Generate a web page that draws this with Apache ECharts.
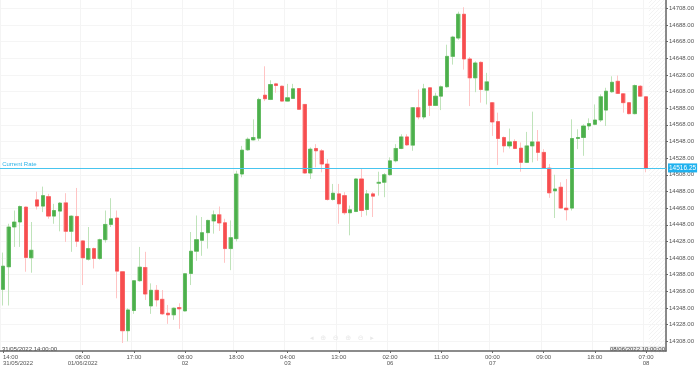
<!DOCTYPE html>
<html><head><meta charset="utf-8">
<script src="https://cdn.jsdelivr.net/npm/echarts@6/dist/echarts.min.js"></script>
<style>html,body{margin:0;padding:0;background:#fff}#c{width:699px;height:367px}</style>
</head><body><div id="c"></div>
<script>
const SLOTS = 117;
const tickLabels = {0:'14:00\n31/05/2022',14:'08:00\n01/06/2022',23:'17:00',32:'08:00\n02',41:'18:00',50:'04:00\n03',59:'13:00',68:'02:00\n06',77:'11:00',86:'00:00\n07',95:'09:00',104:'18:00',113:'07:00\n08'};
const yTicks = [14308,14328,14348,14368,14388,14408,14428,14448,14468,14488,14508,14528,14548,14568,14588,14608,14628,14648,14668,14688,14708];
const currentRate = 14516.25;
const startLabel = '31/05/2022 14:00:00';
const endLabel = '08/06/2022 10:00:00';

const open = [14370.4,14397.5,14445.3,14451.3,14469.2,14408.3,14477.9,14470.4,14481.8,14458.4,
14464.4,14474.3,14440.1,14458.0,14428.6,14406.6,14419.4,14407.5,14430.1,14448.4,
14456.1,14391.6,14320.7,14345.0,14380.8,14396.7,14350.5,14369.3,14358.5,14341.8,
14339.8,14348.6,14344.5,14389.5,14416.2,14429.3,14438.5,14452.5,14460.0,14450.4,
14419.4,14431.3,14508.9,14538.0,14549.9,14551.9,14603.6,14598.5,14617.2,14614.4,
14596.5,14599.7,14611.6,14592.5,14510.1,14539.6,14536.8,14520.9,14478.3,14485.1,
14483.0,14462.4,14463.9,14503.0,14466.3,14485.1,14497.8,14499.0,14508.1,14524.8,
14539.6,14553.5,14543.6,14588.6,14577.4,14612.5,14591.3,14602.4,14613.7,14650.2,
14672.2,14700.8,14647.1,14624.4,14643.0,14609.6,14594.6,14571.9,14552.8,14542.7,
14548.0,14540.0,14522.9,14542.7,14547.5,14534.9,14516.1,14488.7,14493.1,14468.0,
14468.0,14551.6,14552.8,14566.6,14568.6,14573.8,14585.7,14607.7,14620.3,14605.3,
14594.6,14581.4,14614.4,14601.7];
const close = [14398.3,14445.3,14451.3,14469.9,14408.7,14417.4,14470.4,14483.0,14458.4,14465.1,
14474.0,14440.1,14458.4,14428.1,14408.3,14419.4,14407.5,14430.1,14448.4,14455.2,
14392.3,14320.7,14345.7,14380.8,14397.1,14364.8,14369.3,14357.7,14341.0,14339.8,
14347.8,14347.0,14389.2,14416.2,14430.1,14438.5,14453.2,14460.0,14450.1,14419.4,
14432.5,14508.9,14537.6,14550.7,14552.8,14598.5,14599.3,14616.4,14615.2,14596.5,
14600.5,14611.3,14586.6,14510.1,14538.8,14536.8,14520.9,14478.3,14485.9,14473.1,
14462.4,14466.0,14503.0,14465.1,14485.1,14482.3,14499.0,14508.1,14524.8,14539.6,
14553.5,14543.9,14588.6,14577.4,14611.3,14591.3,14602.4,14613.7,14650.2,14673.4,
14700.8,14647.1,14624.4,14642.3,14610.4,14619.6,14571.4,14551.6,14542.7,14547.5,
14539.6,14522.9,14542.7,14547.5,14534.9,14516.1,14486.3,14491.0,14468.0,14466.0,
14551.6,14552.8,14566.6,14569.5,14573.8,14601.7,14608.4,14619.1,14605.7,14594.6,
14581.4,14615.2,14602.4,14516.25];
const high = [14414.6,14449.2,14465.1,14471.1,14469.9,14451.3,14487.8,14493.8,14485.1,14473.1,
14475.2,14485.9,14459.1,14492.2,14429.3,14445.3,14420.6,14431.3,14465.1,14479.9,
14465.1,14392.3,14347.8,14381.5,14421.4,14415.5,14377.6,14375.6,14369.6,14351.7,
14348.6,14353.7,14389.5,14439.3,14459.1,14457.3,14454.0,14465.1,14469.9,14455.2,
14453.2,14512.9,14542.7,14552.8,14574.6,14600.5,14638.3,14621.5,14618.4,14615.0,
14617.2,14617.2,14612.0,14593.0,14540.8,14544.8,14538.8,14526.9,14497.0,14497.0,
14487.1,14471.1,14503.8,14516.1,14489.8,14487.1,14511.7,14510.1,14528.9,14544.8,
14556.7,14556.7,14589.0,14610.4,14617.2,14613.0,14606.5,14615.2,14664.2,14674.9,
14703.9,14709.2,14649.5,14644.2,14644.2,14630.4,14595.0,14582.6,14554.0,14563.5,
14550.7,14546.8,14559.5,14583.8,14561.8,14538.8,14520.9,14508.1,14499.0,14503.0,
14574.6,14562.7,14568.6,14575.8,14592.5,14604.5,14612.5,14626.3,14627.2,14605.7,
14595.3,14616.4,14615.6,14602.4];
const low = [14351.0,14351.0,14421.4,14421.4,14391.6,14390.4,14466.3,14463.2,14455.2,14449.2,
14440.1,14427.4,14415.5,14421.4,14375.6,14405.0,14395.5,14406.0,14426.6,14445.3,
14359.7,14306.0,14308.0,14341.0,14379.6,14357.7,14341.0,14349.8,14339.8,14329.0,
14333.8,14323.0,14344.0,14375.6,14404.7,14410.7,14419.4,14437.3,14440.5,14402.3,
14393.5,14428.1,14505.0,14536.8,14549.5,14548.7,14596.5,14597.7,14606.5,14596.0,
14596.0,14599.3,14586.0,14509.5,14503.0,14516.9,14511.0,14477.1,14477.1,14449.2,
14460.0,14435.3,14463.2,14457.3,14459.1,14457.3,14483.0,14481.1,14506.9,14522.9,
14538.8,14542.7,14536.8,14574.6,14574.6,14578.6,14590.5,14585.7,14612.5,14640.3,
14670.1,14634.3,14590.5,14607.2,14594.6,14592.5,14554.7,14519.7,14534.9,14539.6,
14538.8,14511.7,14522.1,14522.9,14524.8,14514.9,14480.3,14456.1,14467.2,14453.2,
14465.1,14538.8,14530.8,14561.8,14567.5,14571.4,14566.6,14606.5,14605.3,14582.6,
14580.6,14580.6,14601.7,14511.0];

const categories = [];
for (let i = 0; i < SLOTS; i++) categories.push(String(i));
const wickData = open.map((o, i) => [o, close[i], low[i], high[i]]);
const bodyData = open.map((o, i) => [o, close[i], Math.min(o, close[i]), Math.max(o, close[i])]);

const GREEN = '#4cb04c', RED = '#f74d4f', LGREEN = '#bfe3ba', LRED = '#ffc4c4';
const FONT = 'Liberation Sans';
const isTick = (idx) => tickLabels[idx] !== undefined;

const chart = echarts.init(document.getElementById('c'), null, {renderer: 'canvas'});
const gridLeft = -1.15, gridRight = 33, gridTop = 0, gridBottom = 14;

chart.setOption({
  animation: false,
  backgroundColor: '#fff',
  grid: {left: gridLeft, right: gridRight, top: gridTop, bottom: gridBottom},
  xAxis: {
    type: 'category', data: categories, boundaryGap: true,
    axisLine: {show: true, lineStyle: {color: '#666', width: 1.5}},
    axisTick: {show: true, interval: (i) => isTick(i), alignWithLabel: true, length: 2, lineStyle: {color: '#666'}},
    axisLabel: {interval: (i) => isTick(i), formatter: (v, i) => tickLabels[i] || '', fontSize: 6, lineHeight: 6.5,
      color: '#555', fontFamily: FONT, margin: 3, alignMinLabel: 'left', showMinLabel: true, hideOverlap: false},
    splitLine: {show: true, interval: (i) => isTick(i), lineStyle: {color: '#f4f4f4', width: 1}}
  },
  yAxis: {
    type: 'value', position: 'right', scale: true, min: 14296.4, max: 14717.9,
    axisLine: {show: true, lineStyle: {color: '#666', width: 1.5}},
    axisTick: {show: true, customValues: yTicks, length: 2, lineStyle: {color: '#666'}},
    axisLabel: {customValues: yTicks, formatter: (v) => v.toFixed(2), fontSize: 6, color: '#555', fontFamily: FONT, margin: 3},
    splitLine: {show: true, lineStyle: {color: '#f5f5f5', width: 1}}
  },
  series: [
    {
      type: 'candlestick', name: 'wick', data: wickData, barWidth: 4, z: 2,
      itemStyle: {color: LGREEN, color0: LRED, borderColor: LGREEN, borderColor0: LRED, borderWidth: 1},
      markLine: {
        silent: true, symbol: 'none', animation: false, z: 5,
        lineStyle: {color: '#48c5ef', width: 1, type: 'solid'},
        data: [
          {yAxis: currentRate, label: {show: true, position: 'insideStartTop', formatter: 'Current Rate', color: '#2bb3e8', fontSize: 6, fontFamily: FONT, distance: [2, 1]}},
          {yAxis: currentRate, label: {show: true, position: 'end', formatter: currentRate.toFixed(2), color: '#fff', backgroundColor: '#1fb1ee', fontSize: 6.5, fontFamily: FONT, padding: [1, 1], distance: 2}}
        ]
      }
    },
    {
      type: 'candlestick', name: 'body', data: bodyData, barWidth: 3.6, z: 3,
      itemStyle: {color: GREEN, color0: RED, borderColor: GREEN, borderColor0: RED, borderWidth: 0.6}
    }
  ]
});

// decorative overlays: future hatched region, corner date labels, faint toolbar icons
const band = (699 - gridRight - gridLeft) / SLOTS;
const xFut = gridLeft + band * open.length;
const pc = document.createElement('canvas');
pc.width = 4; pc.height = 4;
const g = pc.getContext('2d');
g.strokeStyle = '#f3f3f3'; g.lineWidth = 1;
g.beginPath(); g.moveTo(0, 4); g.lineTo(4, 0); g.stroke();
const plotBottom = 367 - gridBottom;
chart.setOption({
  graphic: [
    {type: 'rect', silent: true, z: -1, shape: {x: xFut, y: 0, width: 699 - gridRight - xFut, height: plotBottom}, style: {fill: {image: pc, repeat: 'repeat'}}},
    {type: 'text', silent: true, left: 2, top: plotBottom - 7, style: {text: startLabel, fontSize: 6, fill: '#444', fontFamily: FONT}},
    {type: 'text', silent: true, right: gridRight + 1, top: plotBottom - 7, style: {text: endLabel, fontSize: 6, fill: '#444', fontFamily: FONT, backgroundColor: 'rgba(238,238,238,0.9)'}},
    {type: 'text', silent: true, left: 310, top: 335, style: {text: '◂   ⊕   ⊖   ⊕   ⊖   ▸', fontSize: 7, fill: '#e8e8e8', fontFamily: 'DejaVu Sans'}}
  ]
});
</script></body></html>
